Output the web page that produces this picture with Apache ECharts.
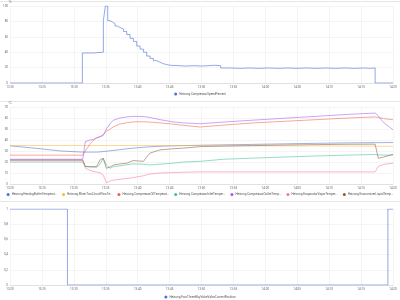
<!DOCTYPE html>
<html><head><meta charset="utf-8">
<script src="https://cdn.jsdelivr.net/npm/echarts@6/dist/echarts.min.js"></script>
<style>html,body{margin:0;padding:0;background:#fff}#c{width:400px;height:300px}</style>
</head><body><div id="c"></div>
<script>
// time in minutes since midnight (800 = 13:20)
const xTicksMin = 800, xTicksMax = 860, xTickStep = 5;

const speedName = 'Heizung.CompressorSpeedPercent';
const speedTimes = [800, 811.33, 813.05, 814.62, 814.93, 815.3, 815.67, 816.08, 816.45, 816.82, 817.23, 817.76, 818.28, 818.8, 819.32, 819.85, 820.37, 820.89, 821.41, 821.93, 822.46, 822.98, 823.5, 824.02, 824.55, 825.07, 826.5, 827.5, 829, 830, 831, 832, 833, 834.5, 836, 837.5, 839, 840.5, 842, 843.5, 845, 846.5, 848, 849.5, 851, 852.5, 854, 855.5, 856.5, 857.2, 860];
const speedValues = [0, 39, 40, 81, 100, 81, 79, 77, 74, 72, 70, 67, 63, 58, 54, 48, 44, 40, 35, 32, 29, 27, 25, 24, 23, 22.5, 22, 22.5, 22, 22.5, 23, 22.5, 19.5, 19, 19.5, 19, 19.5, 19, 19.5, 19, 19.5, 19, 19.5, 19, 19.5, 19, 19.5, 19, 19.5, 0, 0];

const tempTimes = [800, 804, 808, 811.4, 811.8, 812.5, 813.1, 813.6, 814.1, 814.6, 815.1, 815.7, 816.2, 817.2, 818.3, 819.3, 820.9, 821.9, 823.5, 825.5, 827.2, 829.8, 833.4, 838, 843, 848, 853, 857.2, 857.7, 858.5, 860];
const tempNames = [
  'Heizung.HeatingBufferTemperature',
  'Heizung.MixerTwoCircuitFlowTemperature',
  'Heizung.CompressorOilTemperature',
  'Heizung.CompressorInletTemperature',
  'Heizung.CompressorOutletTemperature',
  'Heizung.EvaporatorVaporTemperature',
  'Heizung.EconomizerLiquidTemperature'
];
const heatingBuffer = [34.7, 32.5, 30, 29, 29, 29, 29, 29, 29.2, 29.5, 29.8, 30.2, 30.5, 31.2, 32, 32.6, 33.4, 33.8, 34.3, 34.7, 34.9, 35.2, 35.6, 36, 36.5, 37, 37.4, 37.6, 37.6, 37.6, 37.7];
const mixerFlow = [35, 35, 35, 35, 35, 35, 35, 35, 35, 35, 35, 35, 35, 35, 35, 35, 35, 35, 35, 35, 35, 34.9, 34.8, 34.7, 34.6, 34.6, 34.5, 34.5, 34.4, 34.3, 34.3];
const compressorOil = [26.2, 26.2, 26.2, 26.2, 30, 36, 40, 42, 43, 45, 48, 50, 52, 54.5, 55.7, 56.5, 56.6, 56.3, 55.5, 54.5, 53.3, 51.8, 53.5, 55.5, 57, 58.5, 60, 61, 60.5, 59.5, 58.4];
const compressorInlet = [20, 20, 20, 20, 15.8, 15.5, 15.2, 15.2, 18, 23.4, 17.3, 14.3, 15.8, 16.5, 17.5, 18.3, 18, 17.3, 18, 18.9, 20, 20.6, 22.5, 23.5, 24.5, 25.5, 26.3, 26.8, 26.5, 26.3, 26.2];
const compressorOutlet = [22.5, 22.5, 22.5, 22.5, 38.6, 40, 40.5, 42, 43, 44, 50, 55, 58, 60, 61, 61.5, 61.3, 60.5, 58.5, 56.5, 55.5, 54.8, 56.3, 58, 59.8, 61.5, 63.3, 64.5, 62, 56, 49.3];
const evaporatorVapor = [21.3, 21.3, 21.3, 21.3, 14.3, 12.5, 11.3, 10.8, 10.3, 8.2, 1.2, 2.7, 3.5, 4.3, 5, 5.8, 7.5, 9.1, 10, 10.4, 10.7, 11, 11, 11, 11, 11, 11, 11, 16, 17.8, 18.9];
const economizerLiquid = [21.9, 21.9, 21.9, 21.9, 16, 15.8, 15.8, 16, 21.9, 23.4, 14.3, 15.5, 17.3, 18.2, 18.9, 21.3, 20.6, 28, 31, 32, 32.6, 34, 34.4, 34.9, 35.4, 35.8, 36.1, 36.2, 23.4, 24.5, 27];
const tempColors = ['#5470c6', '#f5b940', '#f0604d', '#3dbf98', '#9b5cf6', '#ff6fa8', '#8b5a3c'];

const valveName = 'Heizung.FourThreeWayValveValveCurrentPosition';
const valveTimes = [800, 809.0, 859.2, 860];
const valveValues = [1, 0, 1, 1];

const zip = (t, v) => t.map((x, i) => [x, v[i]]);
const fmtTime = v => Math.floor(v / 60) + ':' + String(Math.round(v % 60)).padStart(2, '0');
const lab = {fontSize: 3, color: '#666', fontFamily: 'Roboto, sans-serif'};
const grid = (top, h) => ({left: 10, right: 7, top: top, height: h});
const xAx = gi => ({type: 'value', gridIndex: gi, min: xTicksMin, max: xTicksMax, interval: xTickStep,
  axisLabel: Object.assign({formatter: fmtTime, margin: 2.5}, lab),
  axisLine: {show: true, lineStyle: {color: '#ccc', width: 0.5}}, axisTick: {show: false},
  splitLine: {show: true, lineStyle: {color: '#ececec', width: 0.6}}});
const yAx = (gi, max, iv, name, fmt) => ({type: 'value', gridIndex: gi, min: 0, max: max, interval: iv,
  name: name, nameGap: 2, nameTextStyle: {fontSize: 3, color: '#666', align: 'center'},
  axisLabel: Object.assign({margin: 2, formatter: fmt}, lab),
  axisLine: {show: false}, axisTick: {show: false},
  splitLine: {show: true, lineStyle: {color: '#ececec', width: 0.6}}});
const legTxt = {fontSize: 3, color: '#555', fontFamily: 'Roboto, sans-serif', padding: [0, 0, 0, -3]};

const tempArrays = [heatingBuffer, mixerFlow, compressorOil, compressorInlet, compressorOutlet, evaporatorVapor, economizerLiquid];

const option = {
  animation: false,
  graphic: [0, 100, 200].map(y => ({type: 'line', shape: {x1: 0, y1: y + 1.5, x2: 400, y2: y + 1.5}, style: {stroke: '#e6e6e6', lineWidth: 1}})),
  grid: [grid(6, 77), grid(107, 77), grid(209, 76)],
  xAxis: [xAx(0), xAx(1), xAx(2)],
  yAxis: [yAx(0, 100, 20, '%'), yAx(1, 70, 10, '°C'), yAx(2, 1, 0.2, '', v => String(+v.toFixed(1)).replace('.', ','))],
  legend: [
    {data: [speedName], top: 92.5, left: 'center', icon: 'circle', itemWidth: 3, itemHeight: 3, padding: 0, textStyle: legTxt},
    {data: tempNames, top: 193, left: 'center', icon: 'circle', itemWidth: 3, itemHeight: 3, itemGap: 5, padding: 0,
      textStyle: Object.assign({width: 48, overflow: 'truncate'}, legTxt)},
    {data: [valveName], top: 295.5, left: 'center', icon: 'circle', itemWidth: 3, itemHeight: 3, padding: 0, textStyle: legTxt}
  ],
  series: [
    {name: speedName, type: 'line', step: 'end', xAxisIndex: 0, yAxisIndex: 0, showSymbol: false,
      color: '#4f6fd6', lineStyle: {width: 1, opacity: 0.6}, data: zip(speedTimes, speedValues)},
    ...tempNames.map((n, i) => ({name: n, type: 'line', xAxisIndex: 1, yAxisIndex: 1, showSymbol: false,
      color: tempColors[i], lineStyle: {width: 1, opacity: 0.55}, data: zip(tempTimes, tempArrays[i])})),
    {name: valveName, type: 'line', step: 'end', xAxisIndex: 2, yAxisIndex: 2, showSymbol: false,
      color: '#4f6fd6', lineStyle: {width: 1, opacity: 0.6}, data: zip(valveTimes, valveValues)}
  ]
};
echarts.init(document.getElementById('c'), null, {renderer: 'canvas'}).setOption(option);
</script></body></html>
